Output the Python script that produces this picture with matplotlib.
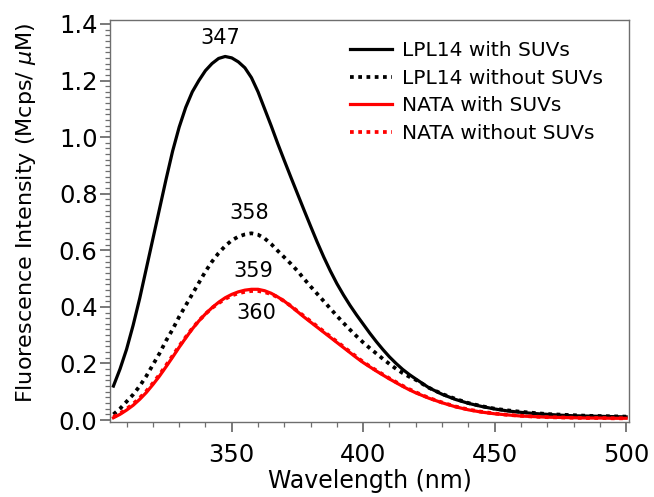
import matplotlib
matplotlib.use("Agg")
import matplotlib.pyplot as plt
from matplotlib.ticker import MultipleLocator, FormatStrFormatter

wavelength = [305, 307.5, 310, 312.5, 315, 317.5, 320, 322.5, 325, 327.5, 330, 332.5,
              335, 337.5, 340, 342.5, 345, 347.5, 350, 352.5, 355, 357.5, 360, 362.5,
              365, 367.5, 370, 372.5, 375, 377.5, 380, 382.5, 385, 387.5, 390, 392.5,
              395, 397.5, 400, 402.5, 405, 407.5, 410, 412.5, 415, 417.5, 420,
              425, 430, 435, 440, 445, 450, 455, 460, 465, 470, 475, 480, 485, 490, 495, 500]

lpl14_with = [0.12, 0.18, 0.25, 0.335, 0.43, 0.535, 0.64, 0.745, 0.85, 0.95, 1.035, 1.105,
              1.16, 1.2, 1.235, 1.26, 1.278, 1.285, 1.28, 1.266, 1.245, 1.21, 1.16, 1.10,
              1.04, 0.977, 0.917, 0.858, 0.80, 0.742, 0.685, 0.629, 0.576, 0.527, 0.482, 0.442,
              0.405, 0.371, 0.339, 0.307, 0.277, 0.249, 0.223, 0.2, 0.179, 0.161, 0.145,
              0.114, 0.091, 0.073, 0.059, 0.048, 0.039, 0.032, 0.027, 0.023, 0.020, 0.017,
              0.015, 0.014, 0.013, 0.012, 0.011]

lpl14_without = [0.02, 0.04, 0.065, 0.09, 0.12, 0.155, 0.195, 0.235, 0.28, 0.32, 0.365,
                 0.405, 0.445, 0.485, 0.525, 0.56, 0.59, 0.615, 0.635, 0.648, 0.656, 0.66,
                 0.655, 0.642, 0.622, 0.598, 0.575, 0.552, 0.527, 0.499, 0.472, 0.446, 0.42,
                 0.394, 0.368, 0.343, 0.319, 0.296, 0.274, 0.254, 0.235, 0.216, 0.198, 0.181,
                 0.166, 0.153, 0.142, 0.114, 0.092, 0.075, 0.06, 0.049, 0.04, 0.034, 0.029,
                 0.025, 0.021, 0.019, 0.017, 0.015, 0.014, 0.013, 0.012]

nata_with = [0.008, 0.02, 0.035, 0.052, 0.073, 0.097, 0.125, 0.155, 0.188, 0.222, 0.257,
             0.29, 0.322, 0.35, 0.375, 0.397, 0.416, 0.432, 0.444, 0.453, 0.459, 0.462,
             0.462, 0.457, 0.448, 0.435, 0.42, 0.402, 0.383, 0.364, 0.346, 0.328, 0.31,
             0.292, 0.274, 0.256, 0.238, 0.22, 0.203, 0.188, 0.173, 0.159, 0.145, 0.132,
             0.119, 0.107, 0.096, 0.077, 0.061, 0.047, 0.036, 0.028, 0.022, 0.018, 0.014,
             0.012, 0.010, 0.009, 0.008, 0.007, 0.007, 0.006, 0.006]

nata_without = [0.011, 0.023, 0.039, 0.057, 0.078, 0.102, 0.13, 0.16, 0.193, 0.227, 0.261,
                0.293, 0.324, 0.351, 0.375, 0.396, 0.413, 0.428, 0.44, 0.448, 0.453, 0.456,
                0.456, 0.452, 0.445, 0.434, 0.42, 0.403, 0.385, 0.367, 0.349, 0.331, 0.313,
                0.295, 0.277, 0.259, 0.241, 0.223, 0.205, 0.19, 0.175, 0.161, 0.147, 0.134,
                0.121, 0.109, 0.098, 0.078, 0.062, 0.048, 0.037, 0.029, 0.023, 0.018, 0.015,
                0.012, 0.010, 0.009, 0.008, 0.007, 0.007, 0.006, 0.006]

peak_labels = ["347", "358", "359", "360"]
peak_label_x = [345.6, 356.5, 358.2, 359.5]
peak_label_y = [1.352, 0.73, 0.527, 0.379]

series_names = ["LPL14 with SUVs", "LPL14 without SUVs", "NATA with SUVs", "NATA without SUVs"]

fig = plt.figure(figsize=(6.54, 4.97), dpi=100)
ax = fig.add_axes([0.1682, 0.1515, 0.7936, 0.8083])

dot = (0, (1, 1.2))
ax.plot(wavelength, lpl14_with, color="black", lw=2.3, label=series_names[0])
ax.plot(wavelength, lpl14_without, color="black", lw=2.7, linestyle=dot, label=series_names[1])
ax.plot(wavelength, nata_with, color="#ff0000", lw=2.3, label=series_names[2])
ax.plot(wavelength, nata_without, color="#ff0000", lw=2.7, linestyle=dot, label=series_names[3])

for t, xx, yy in zip(peak_labels, peak_label_x, peak_label_y):
    ax.text(xx, yy, t, ha="center", va="center", fontsize=15)

ax.set_xlim(303.7, 501.1)
ax.set_ylim(-0.006, 1.414)
ax.xaxis.set_major_locator(MultipleLocator(50))
ax.xaxis.set_minor_locator(MultipleLocator(10))
ax.yaxis.set_major_locator(MultipleLocator(0.2))
ax.yaxis.set_minor_locator(MultipleLocator(0.02))
ax.yaxis.set_major_formatter(FormatStrFormatter("%.1f"))

for s in ax.spines.values():
    s.set_color("#6e6e6e")
    s.set_linewidth(1.0)
ax.tick_params(which="major", direction="out", length=7, width=1.1, color="#555555",
               labelsize=17.5, top=False, right=False)
ax.tick_params(axis="x", which="major", pad=8)
ax.tick_params(axis="y", which="major", pad=2)
ax.tick_params(which="minor", direction="out", length=3.5, width=0.9, color="#6e6e6e",
               top=False, right=False)

ax.set_xlabel("Wavelength (nm)", fontsize=17, labelpad=2)
ax.set_ylabel("Fluorescence Intensity (Mcps/ $\\mu$M)", fontsize=16, labelpad=15)
ax.yaxis.label.set_y(0.52)

leg = ax.legend(loc="upper left", bbox_to_anchor=(0.4624, 0.947), frameon=False,
                fontsize=14.5, handlelength=2.1, handletextpad=0.5, labelspacing=0.42,
                borderpad=0, borderaxespad=0)

fig.savefig("out.png", dpi=100)
